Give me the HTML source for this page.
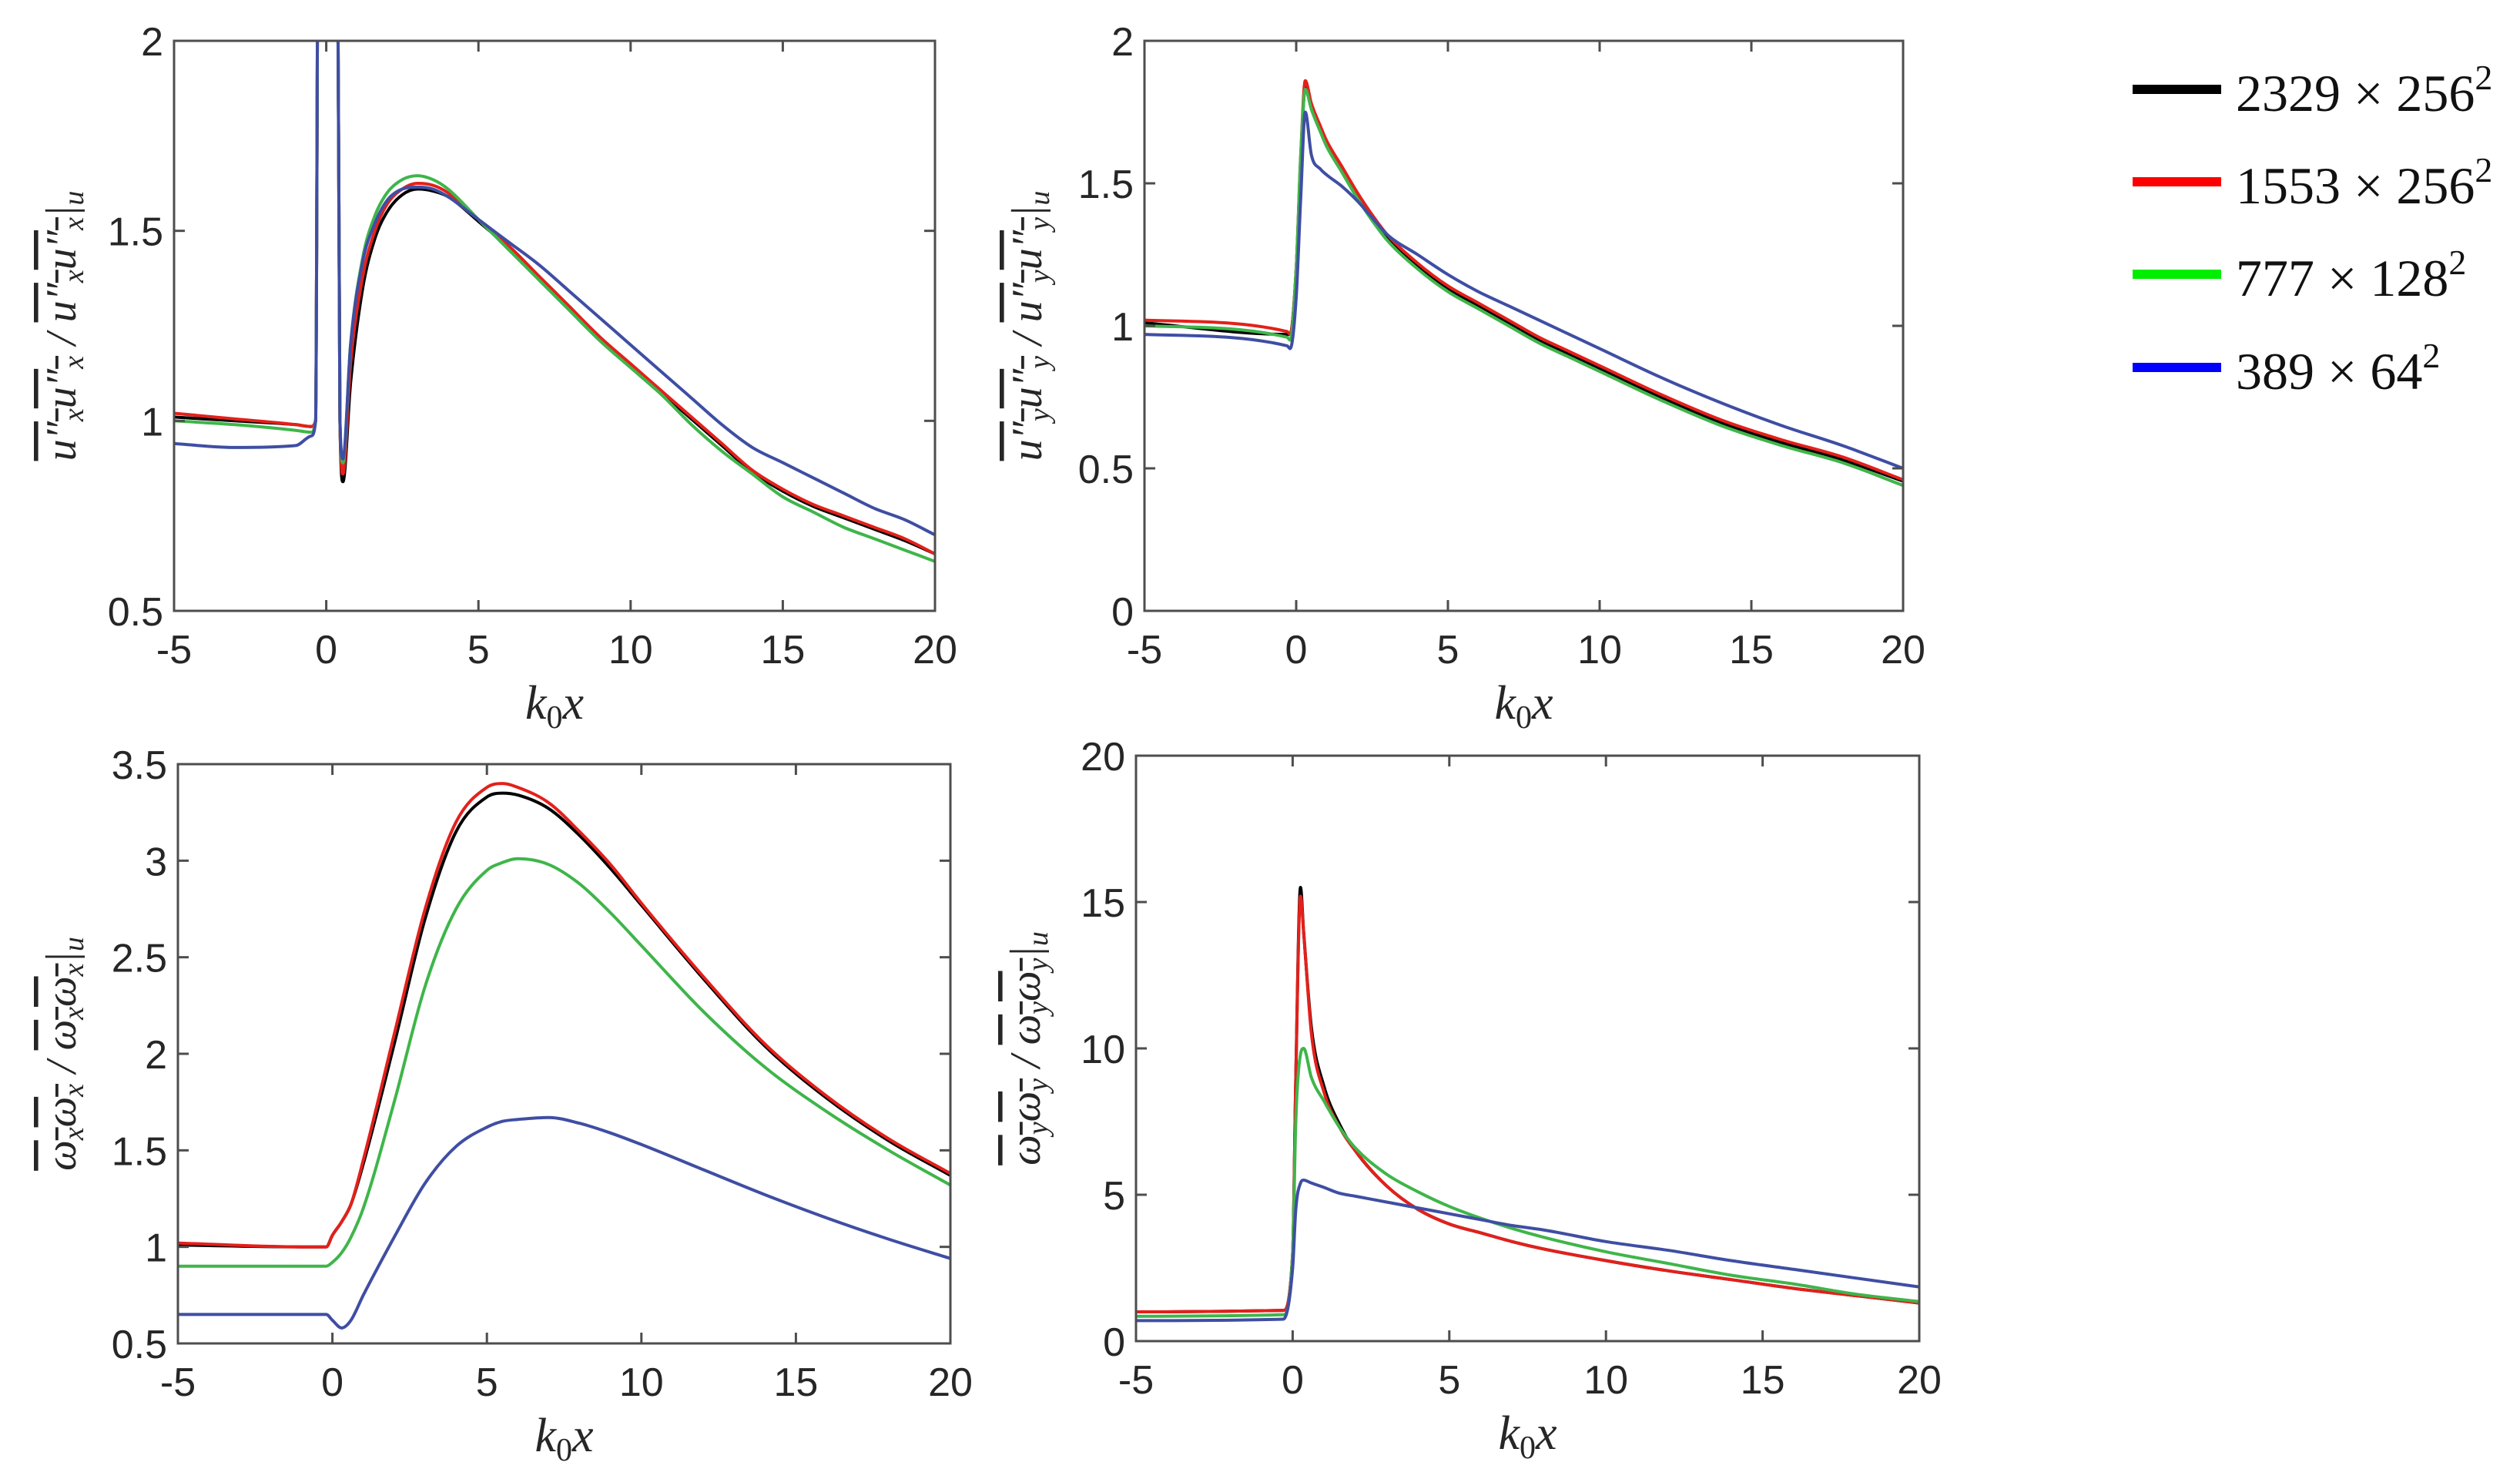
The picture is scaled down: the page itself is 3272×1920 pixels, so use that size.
<!DOCTYPE html>
<html><head><meta charset="utf-8"><style>
html,body{margin:0;padding:0;background:#fff;width:3272px;height:1920px;overflow:hidden}
svg{display:block}
.tick{font-family:"Liberation Sans",sans-serif;font-size:52px;fill:#262626}
.xl{font-family:"Liberation Serif",serif;font-style:italic;font-size:62px;fill:#262626}
.yl{font-family:"Liberation Serif",serif;font-style:italic;font-size:56px;fill:#262626}
.leg{font-family:"Liberation Serif",serif;font-size:68px;fill:#111}
</style></head><body>
<svg id="fig" width="3272" height="1920" viewBox="0 0 3272 1920" xmlns="http://www.w3.org/2000/svg">
<g id="legend">
<g><rect x="2769" y="110" width="115" height="12" fill="#000"/><text class="leg" x="2903" y="144">2329 × 256<tspan dy="-28" font-size="46">2</tspan></text></g>
<g><rect x="2769" y="230" width="115" height="12" fill="#ff0000"/><text class="leg" x="2903" y="264">1553 × 256<tspan dy="-28" font-size="46">2</tspan></text></g>
<g><rect x="2769" y="350" width="115" height="12" fill="#00ee00"/><text class="leg" x="2903" y="384">777 × 128<tspan dy="-28" font-size="46">2</tspan></text></g>
<g><rect x="2769" y="471" width="115" height="12" fill="#0000ff"/><text class="leg" x="2903" y="505">389 × 64<tspan dy="-28" font-size="46">2</tspan></text></g>
</g>
</svg>
<script>
// Panel 1: u''x u''x
const p1X=[-5,-3,-1,-0.5,-0.35,-0.25,0.35,0.45,0.55,0.8,1.2,1.6,2,2.5,3,3.5,4,5,6,7,8,9,10,11,12,13,14,15,16,17,18,19,20];
const p1Black=[1.01,1.0,0.99,0.985,1.0,2.6,2.6,1.0,0.84,1.1,1.35,1.48,1.55,1.595,1.61,1.605,1.59,1.525,1.455,1.375,1.295,1.215,1.145,1.075,1.005,0.935,0.865,0.815,0.775,0.745,0.715,0.685,0.65];
const p1Red=[1.02,1.005,0.99,0.985,1.0,2.6,2.6,1.0,0.86,1.15,1.38,1.50,1.57,1.61,1.625,1.62,1.6,1.53,1.46,1.38,1.30,1.22,1.15,1.08,1.01,0.94,0.87,0.82,0.78,0.75,0.72,0.69,0.65];
const p1Green=[1.0,0.99,0.975,0.97,1.0,2.6,2.6,1.0,0.89,1.2,1.43,1.54,1.60,1.635,1.645,1.635,1.61,1.53,1.45,1.37,1.29,1.21,1.14,1.07,0.99,0.92,0.86,0.80,0.76,0.72,0.69,0.66,0.63];
const p1Blue=[0.94,0.93,0.935,0.96,1.0,2.6,2.6,1.0,0.9,1.2,1.42,1.52,1.58,1.61,1.615,1.61,1.59,1.53,1.47,1.41,1.34,1.27,1.2,1.13,1.06,0.99,0.93,0.89,0.85,0.81,0.77,0.74,0.70];
const p1YTicks=[0.5,1,1.5,2];
// Panel 2: u''y u''y
const p2X=[-5,-0.3,-0.2,0,0.15,0.3,0.5,0.8,1,1.5,2,2.5,3,4,5,6,7,8,9,10,12,14,16,18,20];
const p2Black=[1.01,0.97,0.97,1.2,1.58,1.84,1.77,1.69,1.64,1.55,1.46,1.38,1.31,1.21,1.13,1.07,1.01,0.95,0.9,0.85,0.75,0.66,0.59,0.53,0.455];
const p2Red=[1.02,0.98,0.97,1.2,1.6,1.86,1.78,1.70,1.65,1.56,1.47,1.39,1.32,1.22,1.14,1.08,1.02,0.96,0.91,0.86,0.76,0.67,0.6,0.54,0.46];
const p2Green=[1.0,0.96,0.95,1.2,1.6,1.83,1.76,1.68,1.63,1.54,1.45,1.37,1.30,1.20,1.12,1.06,1.0,0.94,0.89,0.84,0.74,0.65,0.58,0.52,0.44];
const p2Blue=[0.97,0.93,0.92,1.1,1.45,1.75,1.6,1.55,1.53,1.49,1.44,1.38,1.32,1.25,1.18,1.12,1.07,1.02,0.97,0.92,0.82,0.73,0.65,0.58,0.5];
const p2YTicks=[0,0.5,1,1.5,2];
// Panel 3: omega_x
const p3X=[-5,-1,-0.2,0,0.3,0.6,1,2,3,4,5,5.5,6,7,8,9,10,12,14,16,18,20];
const p3Black=[1.01,1.0,1.0,1.06,1.13,1.22,1.43,2.05,2.7,3.15,3.33,3.35,3.34,3.27,3.13,2.96,2.77,2.39,2.04,1.77,1.55,1.37];
const p3Red=[1.02,1.0,1.0,1.06,1.13,1.22,1.45,2.1,2.75,3.2,3.38,3.4,3.38,3.3,3.15,2.98,2.78,2.4,2.05,1.78,1.56,1.38];
const p3Green=[0.9,0.9,0.9,0.92,0.97,1.05,1.2,1.75,2.35,2.75,2.95,2.99,3.01,2.98,2.88,2.73,2.56,2.22,1.93,1.7,1.5,1.32];
const p3Blue=[0.65,0.65,0.65,0.62,0.58,0.62,0.75,1.05,1.33,1.52,1.62,1.65,1.66,1.67,1.64,1.59,1.53,1.4,1.27,1.15,1.04,0.94];
const p3YTicks=[0.5,1,1.5,2,2.5,3,3.5];
// Panel 4: omega_y
const p4X=[-5,-0.3,0,0.1,0.25,0.35,0.6,1,1.5,2,3,4,5,6,7,8,10,12,14,16,18,20];
const p4Black=[1.0,1.05,3,9,15.5,14,10.7,8.7,7.4,6.5,5.3,4.5,4.0,3.7,3.4,3.15,2.75,2.4,2.1,1.8,1.55,1.3];
const p4Red=[1.0,1.05,3,9,15.2,14,10.5,8.5,7.3,6.5,5.3,4.5,4.0,3.7,3.4,3.15,2.75,2.4,2.1,1.8,1.55,1.3];
const p4Green=[0.85,0.9,3,7.5,9.8,10,9,8.2,7.3,6.6,5.7,5.1,4.6,4.2,3.85,3.55,3.05,2.65,2.25,1.95,1.6,1.35];
const p4Blue=[0.7,0.75,2.5,4.5,5.4,5.5,5.4,5.25,5.05,4.95,4.75,4.55,4.35,4.15,3.95,3.8,3.4,3.1,2.75,2.45,2.15,1.85];
const p4YTicks=[0,5,10,15,20];
const xTicks=[-5,0,5,10,15,20];
const seriesNames=['2329x256','1553x256','777x128','389x64'];

const NS='http://www.w3.org/2000/svg';
const svg=document.getElementById('fig');
function mk(tag,attrs,parent){const e=document.createElementNS(NS,tag);for(const k in attrs)e.setAttribute(k,attrs[k]);(parent||svg).appendChild(e);return e;}
const colors=['#000000','#e3201b','#3fb54a','#3f4ea3'];
// monotone cubic path (Fritsch-Carlson) through screen points
function monoPath(px,py){
  const n=px.length;const d=[],m=[];
  for(let i=0;i<n-1;i++)d.push((py[i+1]-py[i])/(px[i+1]-px[i]));
  m[0]=d[0];m[n-1]=d[n-2];
  for(let i=1;i<n-1;i++){m[i]=(d[i-1]*d[i]<=0)?0:(d[i-1]+d[i])/2;}
  for(let i=0;i<n-1;i++){
    if(d[i]===0){m[i]=0;m[i+1]=0;continue;}
    const a=m[i]/d[i],b=m[i+1]/d[i],s=a*a+b*b;
    if(s>9){const t=3/Math.sqrt(s);m[i]=t*a*d[i];m[i+1]=t*b*d[i];}
  }
  let p='M'+px[0].toFixed(1)+','+py[0].toFixed(1);
  for(let i=0;i<n-1;i++){
    const h=(px[i+1]-px[i])/3;
    p+=' C'+(px[i]+h).toFixed(1)+','+(py[i]+m[i]*h).toFixed(1)+' '+(px[i+1]-h).toFixed(1)+','+(py[i+1]-m[i+1]*h).toFixed(1)+' '+px[i+1].toFixed(1)+','+py[i+1].toFixed(1);
  }
  return p;
}
function panel(id,box,ymin,ymax,yt,X,series,ytitle){
  const g=mk('g',{});
  
  
  const sx=v=>box.l+(v-(-5))/(25)*(box.r-box.l);
  const sy=v=>box.b-(v-ymin)/(ymax-ymin)*(box.b-box.t);
  const cp=mk('clipPath',{id:id+'-clip'},g);
  mk('rect',{x:box.l,y:box.t,width:box.r-box.l,height:box.b-box.t},cp);
  const lines=mk('g',{'clip-path':'url(#'+id+'-clip)'},g);
  series.forEach((ys,i)=>{
    const d=monoPath(X.map(sx),ys.map(sy));
    const pl=mk('path',{d:d,fill:'none',stroke:colors[i],'stroke-width':4,'stroke-linejoin':'round'},lines);
    
    
  });
  const frame=mk('rect',{x:box.l,y:box.t,width:box.r-box.l,height:box.b-box.t,fill:'none',stroke:'#4d4d4d','stroke-width':3},g);
  
  
  xTicks.forEach(v=>{
    const x=sx(v);
    mk('line',{x1:x,y1:box.b,x2:x,y2:box.b-14,stroke:'#4d4d4d','stroke-width':3},g);
    mk('line',{x1:x,y1:box.t,x2:x,y2:box.t+14,stroke:'#4d4d4d','stroke-width':3},g);
    const t=mk('text',{x:x,y:box.b+68,'text-anchor':'middle',class:'tick'},g);
    t.textContent=String(v);
    
    
  });
  yt.forEach(v=>{
    const y=sy(v);
    mk('line',{x1:box.l,y1:y,x2:box.l+14,y2:y,stroke:'#4d4d4d','stroke-width':3},g);
    mk('line',{x1:box.r,y1:y,x2:box.r-14,y2:y,stroke:'#4d4d4d','stroke-width':3},g);
    const t=mk('text',{x:box.l-14,y:y+19,'text-anchor':'end',class:'tick'},g);
    t.textContent=String(v);
    
    
  });
  const xl=mk('text',{x:(box.l+box.r)/2,y:box.b+140,'text-anchor':'middle',class:'xl'},g);
  xl.innerHTML='k<tspan dy="12" font-size="42" font-style="normal">0</tspan><tspan dy="-12">x</tspan>';
  
  
  const cy=(box.t+box.b)/2;
  const yl=mk('text',{x:0,y:0,'text-anchor':'middle',class:'yl',transform:'translate('+ytitle.x+','+cy+') rotate(-90)'},g);
  yl.innerHTML=ytitle.html;
  
  
}
const uxx='<tspan text-decoration="overline">u″<tspan font-size="38" dy="10">x</tspan><tspan dy="-10">u″</tspan><tspan font-size="38" dy="10">x</tspan></tspan><tspan dy="-10"> / </tspan><tspan text-decoration="overline">u″<tspan font-size="38" dy="10">x</tspan><tspan dy="-10">u″</tspan><tspan font-size="38" dy="10">x</tspan></tspan><tspan dy="-10">|</tspan><tspan font-size="38" dy="10">u</tspan>';
const uyy=uxx.split('>x<').join('>y<');
const wxx='<tspan text-decoration="overline">ω<tspan font-size="38" dy="10">x</tspan><tspan dy="-10">ω</tspan><tspan font-size="38" dy="10">x</tspan></tspan><tspan dy="-10"> / </tspan><tspan text-decoration="overline">ω<tspan font-size="38" dy="10">x</tspan><tspan dy="-10">ω</tspan><tspan font-size="38" dy="10">x</tspan></tspan><tspan dy="-10">|</tspan><tspan font-size="38" dy="10">u</tspan>';
const wyy=wxx.split('>x<').join('>y<');
panel('panel-uxx',{l:226,r:1214,t:53,b:793},0.5,2,p1YTicks,p1X,[p1Black,p1Red,p1Green,p1Blue],{x:98,html:uxx});
panel('panel-uyy',{l:1486,r:2471,t:53,b:793},0,2,p2YTicks,p2X,[p2Black,p2Red,p2Green,p2Blue],{x:1352,html:uyy});
panel('panel-wxx',{l:231,r:1234,t:992,b:1744},0.5,3.5,p3YTicks,p3X,[p3Black,p3Red,p3Green,p3Blue],{x:98,html:wxx});
panel('panel-wyy',{l:1475,r:2492,t:981,b:1741},0,20,p4YTicks,p4X,[p4Black,p4Red,p4Green,p4Blue],{x:1350,html:wyy});
</script>
</body></html>
